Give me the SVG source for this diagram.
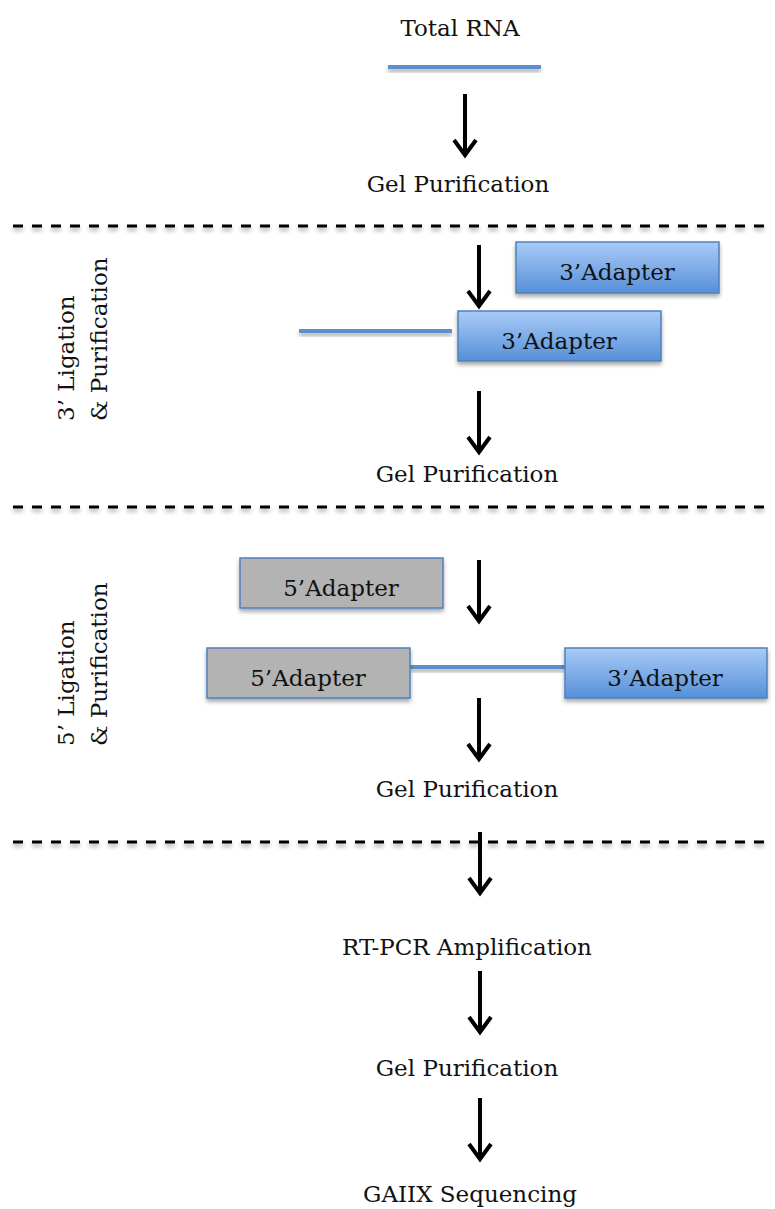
<svg xmlns="http://www.w3.org/2000/svg" width="775" height="1209" viewBox="0 0 775 1209">
  <style>
    text { font-family: "DejaVu Serif", "Liberation Serif", serif; font-size: 23px; fill: #111; }
    .c { text-anchor: middle; }
    .rna { fill: #5b8ed0; }
    .sep { stroke: #000; stroke-width: 3; stroke-dasharray: 10 9; fill: none; }
    .arrow { stroke: #000; stroke-width: 4; fill: none; }
    .head { stroke: #000; stroke-width: 4; fill: none; stroke-linejoin: miter; }
    .blue { fill: url(#blueGrad); stroke: #4f81bd; stroke-width: 1.5; }
    .grey { fill: #b3b3b3; stroke: #4f81bd; stroke-width: 1.5; }
  </style>
  <defs>
    <linearGradient id="blueGrad" x1="0" y1="0" x2="0" y2="1">
      <stop offset="0" stop-color="#a9cbf7"/>
      <stop offset="1" stop-color="#5690d8"/>
    </linearGradient>
    <filter id="shadow" x="-10%" y="-50%" width="120%" height="250%">
      <feGaussianBlur in="SourceAlpha" stdDeviation="2"/>
      <feOffset dx="0" dy="3" result="b"/>
      <feComponentTransfer><feFuncA type="linear" slope="0.35"/></feComponentTransfer>
      <feMerge><feMergeNode/><feMergeNode in="SourceGraphic"/></feMerge>
    </filter>
    <g id="arrowDown">
      <line class="arrow" x1="0" y1="0" x2="0" y2="60"/>
      <polyline class="head" points="-11,46 0,61 11,46"/>
    </g>
  </defs>

  <!-- section separators -->
  <g id="separators" filter="url(#shadow)">
    <line class="sep" x1="13" y1="226" x2="765" y2="226"/>
    <line class="sep" x1="13" y1="507" x2="765" y2="507"/>
    <line class="sep" x1="13" y1="842" x2="765" y2="842"/>
  </g>

  <!-- side labels -->
  <g id="label-3lig">
    <text transform="translate(74,421) rotate(-90)">3’ Ligation</text>
    <text transform="translate(107,421) rotate(-90)">&amp; Purification</text>
  </g>
  <g id="label-5lig">
    <text transform="translate(74,746) rotate(-90)">5’ Ligation</text>
    <text transform="translate(107,746) rotate(-90)">&amp; Purification</text>
  </g>

  <!-- step texts -->
  <g id="total-rna">
    <text class="c" x="460" y="36">Total RNA</text>
    <rect class="rna" x="388" y="65" width="153" height="4" filter="url(#shadow)"/>
  </g>
  <g id="gel1"><text class="c" x="458" y="192">Gel Purification</text></g>
  <g id="gel2"><text class="c" x="467" y="482">Gel Purification</text></g>
  <g id="gel3"><text class="c" x="467" y="797">Gel Purification</text></g>
  <g id="rtpcr"><text class="c" x="467" y="955">RT-PCR Amplification</text></g>
  <g id="gel4"><text class="c" x="467" y="1076">Gel Purification</text></g>
  <g id="seq"><text class="c" x="470" y="1202">GAIIX Sequencing</text></g>

  <!-- 3' ligation -->
  <g id="adapter3-free">
    <rect class="blue" x="516" y="242" width="203" height="51" filter="url(#shadow)"/>
    <text class="c" x="617" y="280">3’Adapter</text>
  </g>
  <g id="ligated-3">
    <rect class="rna" x="299" y="329" width="153" height="4" filter="url(#shadow)"/>
    <rect class="blue" x="458" y="311" width="203" height="50" filter="url(#shadow)"/>
    <text class="c" x="559" y="349">3’Adapter</text>
  </g>

  <!-- 5' ligation -->
  <g id="adapter5-free">
    <rect class="grey" x="240" y="558" width="203" height="50" filter="url(#shadow)"/>
    <text class="c" x="341" y="596">5’Adapter</text>
  </g>
  <g id="ligated-5-3">
    <rect class="rna" x="410" y="665" width="155" height="4" filter="url(#shadow)"/>
    <rect class="grey" x="207" y="648" width="203" height="50" filter="url(#shadow)"/>
    <text class="c" x="308" y="686">5’Adapter</text>
    <rect class="blue" x="565" y="648" width="202" height="50" filter="url(#shadow)"/>
    <text class="c" x="665" y="686">3’Adapter</text>
  </g>

  <!-- flow arrows -->
  <g id="connectors">
    <use href="#arrowDown" x="465" y="94"/>
    <use href="#arrowDown" x="479" y="245"/>
    <use href="#arrowDown" x="479" y="391"/>
    <use href="#arrowDown" x="479" y="560"/>
    <use href="#arrowDown" x="479" y="698"/>
    <use href="#arrowDown" x="480" y="832"/>
    <use href="#arrowDown" x="480" y="971"/>
    <use href="#arrowDown" x="480" y="1098"/>
  </g>
</svg>
